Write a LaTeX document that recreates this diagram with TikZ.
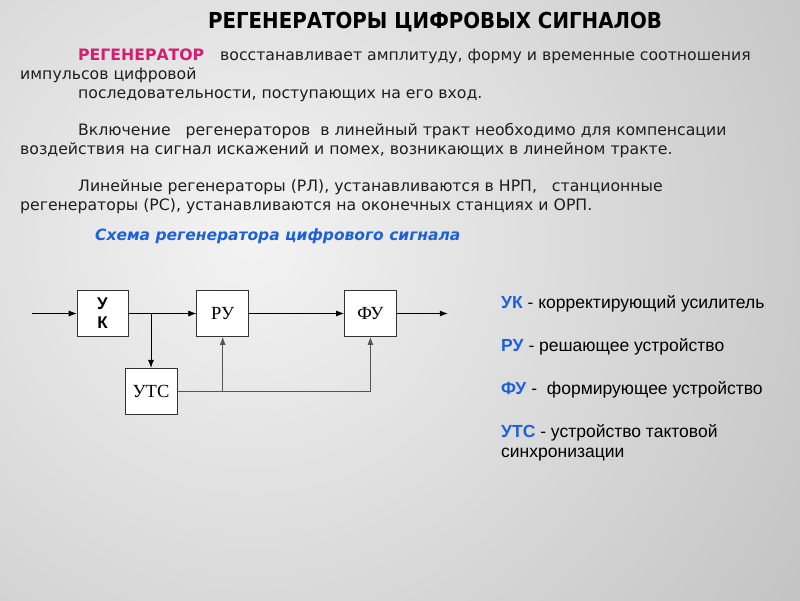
\documentclass[tikz,border=0pt]{standalone}
\usepackage{fontspec}
\setmainfont{Liberation Serif}
\setsansfont{Liberation Sans}
\newfontfamily\condfont{DejaVu Sans Condensed}
\newfontfamily\slidefont{DejaVu Sans}
\usetikzlibrary{positioning, arrows.meta}
\definecolor{slidelight}{RGB}{243,243,243}
\definecolor{slidedark}{RGB}{163,163,163}
\definecolor{regpink}{RGB}{214,30,112}
\definecolor{keyblue}{RGB}{28,96,220}
\definecolor{inkgray}{RGB}{30,30,30}
\definecolor{wiregray}{RGB}{85,85,85}
\tikzset{
>={Latex[length=8pt,width=6pt]}, % filled arrow heads
block/.style={draw=black!80, fill=white, line width=0.7pt, minimum width=52pt, minimum height=46pt, inner sep=0pt, font=\fontsize{18.5}{18.5}\selectfont}, % boxes of the scheme
bodytext/.style={anchor=base west, inner sep=0pt, text=inkgray, font=\slidefont\fontsize{15.7}{15.7}\selectfont}, % lines of the paragraphs
keytext/.style={anchor=base west, inner sep=0pt, text=black, align=left, font=\sffamily\fontsize{17.5}{20}\selectfont}, % legend on the right
wire/.style={line width=0.7pt, black}, % signal path
clockwire/.style={line width=0.9pt, wiregray} % clock path
}
\newcommand{\keyword}[1]{\textcolor{keyblue}{\textbf{#1}}}

\begin{document}
\begin{tikzpicture}[x=1pt, y=-1pt]
  % background
  \begin{scope}
    \clip (0,0) rectangle (800,600);
    \shade[inner color=slidelight, outer color=slidedark] (250,240) circle (1100pt);
  \end{scope}
  \useasboundingbox (0,0) rectangle (800,600);

  % title and text
  \node[anchor=base, inner sep=0pt, font=\condfont\bfseries\fontsize{22}{22}\selectfont] (title) at (435,28) {РЕГЕНЕРАТОРЫ ЦИФРОВЫХ СИГНАЛОВ};
  \node[bodytext, text=regpink, font=\slidefont\bfseries\fontsize{15.7}{15.7}\selectfont] (regword) at (78,60) {РЕГЕНЕРАТОР};
  \node[bodytext] (l1) at (220,60) {восстанавливает амплитуду, форму и временные соотношения};
  \node[bodytext] (l2) at (20,79) {импульсов цифровой};
  \node[bodytext] (l3) at (78,98) {последовательности, поступающих на его вход.};
  \node[bodytext] (l4) at (78,135) {Включение \ \ регенераторов \ в линейный тракт необходимо для компенсации};
  \node[bodytext] (l5) at (20,154) {воздействия на сигнал искажений и помех, возникающих в линейном тракте.};
  \node[bodytext] (l6) at (78,191) {Линейные регенераторы (РЛ), устанавливаются в НРП, \ \ станционные};
  \node[bodytext] (l7) at (20,210) {регенераторы (РС), устанавливаются на оконечных станциях и ОРП.};
  \node[bodytext, text=keyblue, font=\slidefont\bfseries\itshape\fontsize{15.5}{15.5}\selectfont] (scheme) at (95,240) {Схема регенератора цифрового сигнала};

  % scheme
  \node[block, minimum width=51pt, font=\sffamily\bfseries\fontsize{17}{19}\selectfont, align=center] (uk) at (102.5,313.5) {У\\К};
  \node[block, right=68pt of uk] (ru) {РУ};
  \node[block, right=95pt of ru] (fu) {ФУ};
  \node[block, below=31pt of uk, xshift=48.5pt] (uts) {УТС};
  \coordinate[left=45pt of uk] (in);
  \coordinate[right=51pt of fu] (out);

  \draw[wire, ->] (in) -- (uk);
  \draw[wire, ->] (uk) -- (ru);
  \draw[wire, ->] (ru) -- (fu);
  \draw[wire, ->] (fu) -- (out);
  \draw[wire, ->] (uts.north |- uk.east) -- (uts.north);
  \draw[clockwire, ->] (uts.east) -| (fu.south);
  \draw[clockwire, ->] (ru.south |- uts.east) -- (ru.south);

  % legend
  \node[keytext] (kuk) at (501,308) {\keyword{УК} - корректирующий усилитель};
  \node[keytext] (kru) at (501,351) {\keyword{РУ} - решающее устройство};
  \node[keytext] (kfu) at (501,394) {\keyword{ФУ} - \ формирующее устройство};
  \node[keytext] (kuts) at (501,457) {\keyword{УТС} - устройство тактовой\\синхронизации};
\end{tikzpicture}
\end{document}
